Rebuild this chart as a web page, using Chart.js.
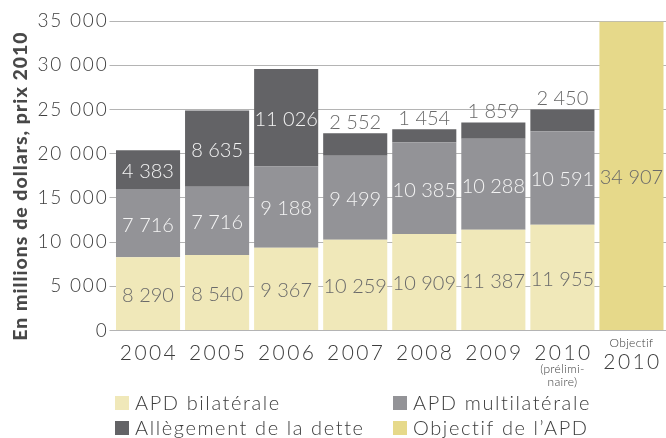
<!DOCTYPE html>
<html>
<head>
<meta charset="utf-8">
<script src="https://cdn.jsdelivr.net/npm/chart.js@4/dist/chart.umd.min.js"></script>
<style>
  html, body { margin: 0; padding: 0; background: #fff; }
  #wrap { position: relative; width: 666px; height: 438px; }
</style>
</head>
<body>
<div id="wrap"><canvas id="apd-chart" width="666" height="438"></canvas></div>
<script>
// ─── DATA ─────────────────────────────────────────────────────────────────────

const categories   = ['2004', '2005', '2006', '2007', '2008', '2009', '2010', '2010'];
const notesAbove   = ['', '', '', '', '', '', '', 'Objectif'];
const notesBelow   = [[], [], [], [], [], [], ['(prélimi-', 'naire)'], []];

const bilateral    = [8290, 8540, 9367, 10259, 10909, 11387, 11955, null];
const multilateral = [7716, 7716, 9188, 9499, 10385, 10288, 10591, null];
const debtRelief   = [4383, 8635, 11026, 2552, 1454, 1859, 2450, null];
const target       = [null, null, null, null, null, null, null, 34907];

const seriesNames  = ['APD bilatérale', 'APD multilatérale', 'Allègement de la dette', 'Objectif de l\u2019APD'];
const yTicks       = [0, 5000, 10000, 15000, 20000, 25000, 30000, 35000];
const yTitle       = 'En millions de dollars, prix 2010';

// ─── STYLE ────────────────────────────────────────────────────────────────────

const colors      = ['#f0e8b9', '#939397', '#636366', '#e6d98a'];
const labelColors = ['#6a6a6a', '#f4f4f4', '#f4f4f4', '#6a6a6a'];
const textColor   = '#3d3d3d';
const FONT        = 'Lato, "Open Sans", sans-serif';

const fmt = v => String(v).replace(/\B(?=(\d{3})+(?!\d))/g, ' ');

// tick labels are drawn by the scale, so set the spacing before it draws
const wideText = {
  id: 'wideText',
  beforeDraw(chart) { chart.ctx.letterSpacing = '1.8px'; },
};

// ── data labels inside / above segments ─────────────────────────
const valueLabels = {
  id: 'valueLabels',
  afterDatasetsDraw(chart) {
    const { ctx } = chart;
    ctx.save();
    ctx.letterSpacing = '0px';
    ctx.font = '300 20px ' + FONT;
    ctx.textAlign = 'center';
    chart.data.datasets.forEach((ds, i) => {
      const meta = chart.getDatasetMeta(i);
      meta.data.forEach((el, j) => {
        const v = ds.data[j];
        if (v == null) return;
        if (i === 2 && v < 3000) {
          ctx.fillStyle = '#6a6a6a';
          ctx.textBaseline = 'bottom';
          ctx.fillText(fmt(v), el.x, el.y - 1);
        } else {
          ctx.fillStyle = labelColors[i];
          ctx.textBaseline = 'middle';
          ctx.fillText(fmt(v), el.x, (el.y + el.base) / 2 + 2);
        }
      });
    });
    ctx.restore();
  },
};

// ── x labels, y title, legend ───────────────────────────────────
const decorations = {
  id: 'decorations',
  afterDraw(chart) {
    const { ctx, scales: { x } } = chart;
    ctx.save();
    ctx.fillStyle = textColor;
    ctx.textAlign = 'center';
    ctx.textBaseline = 'middle';

    categories.forEach((c, i) => {
      const cx = x.getPixelForValue(i);
      ctx.letterSpacing = '2.4px';
      if (notesAbove[i]) {
        ctx.letterSpacing = '0.3px';
        ctx.font = '300 12px ' + FONT;
        ctx.fillText(notesAbove[i], cx, 343);
        ctx.letterSpacing = '2.4px';
        ctx.font = '300 21px ' + FONT;
        ctx.fillText(c, cx + 1, 362);
      } else {
        ctx.font = '300 21px ' + FONT;
        ctx.fillText(c, cx + 1, 353);
      }
      ctx.letterSpacing = '0.3px';
      ctx.font = '300 12px ' + FONT;
      notesBelow[i].forEach((n, k) => ctx.fillText(n, cx, 369 + k * 13));
    });

    // y title
    ctx.save();
    ctx.translate(21, 186);
    ctx.rotate(-Math.PI / 2);
    ctx.letterSpacing = '1px';
    ctx.font = '900 19.5px ' + FONT;
    ctx.fillStyle = '#484848';
    ctx.fillText(yTitle, 0, 0);
    ctx.restore();

    // legend, two columns
    const cols = [115, 393], rows = [403, 428];
    ctx.textAlign = 'left';
    ctx.letterSpacing = '1.6px';
    ctx.font = '300 20px ' + FONT;
    seriesNames.forEach((name, i) => {
      const lx = cols[i % 2], ly = rows[Math.floor(i / 2)];
      ctx.fillStyle = colors[i];
      ctx.fillRect(lx, ly - 7, 14, 14);
      ctx.fillStyle = textColor;
      ctx.fillText(name, lx + 20, ly + 1);
    });
    ctx.restore();
  },
};

new Chart(document.getElementById('apd-chart'), {
  type: 'bar',
  data: {
    labels: categories,
    datasets: [bilateral, multilateral, debtRelief, target].map((d, i) => ({
      label: seriesNames[i],
      data: d,
      backgroundColor: colors[i],
      borderWidth: 0,
      barPercentage: 0.928,
      categoryPercentage: 1,
    })),
  },
  options: {
    responsive: false,
    animation: false,
    layout: { padding: { top: 21, bottom: 107.5, left: 0, right: 0 } },
    plugins: { legend: { display: false }, tooltip: { enabled: false } },
    scales: {
      x: { stacked: true, display: false },
      y: {
        stacked: true,
        min: 0,
        max: 35000,
        afterFit: s => { s.width = 113.5; },
        afterBuildTicks: s => { s.ticks = yTicks.map(v => ({ value: v })); },
        border: { display: false },
        grid: { color: '#b4b4b4', lineWidth: 1, tickLength: 4 },
        ticks: {
          padding: 1,
          color: textColor,
          font: { family: FONT, size: 19, weight: '300' },
          callback: v => fmt(v),
        },
      },
    },
  },
  plugins: [wideText, valueLabels, decorations],
});
</script>
</body>
</html>
